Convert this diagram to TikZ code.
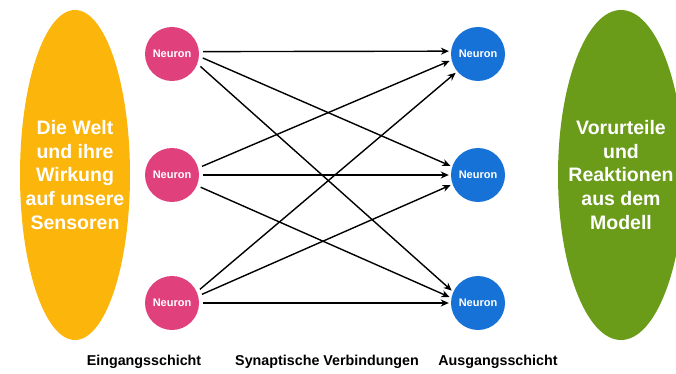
\documentclass[tikz,border=0pt]{standalone}
\usepackage{fontspec}
\setmainfont{Liberation Sans}
\usetikzlibrary{arrows.meta}
\usetikzlibrary{shapes.geometric}
\definecolor{weltgelb}{HTML}{FBB50B}
\definecolor{modellgruen}{HTML}{6A9B19}
\definecolor{eingangrosa}{HTML}{E0407C}
\definecolor{ausgangblau}{HTML}{1772D8}
\tikzset{
    welt/.style={ellipse, fill=#1, inner sep=0pt, minimum width=110pt, minimum height=330pt},
    welttext/.style={text=white, align=center, inner sep=0pt,
        font=\bfseries\fontsize{19.5}{23.75}\selectfont},
    neuronin/.style={circle, fill=eingangrosa, inner sep=0pt, minimum size=54pt,
        text=white, font=\bfseries\fontsize{11}{13}\selectfont},
    neuronout/.style={neuronin, fill=ausgangblau},
    synapse/.style={draw=black, line width=1.4pt, shorten <=4pt, shorten >=2pt,
        -{Stealth[length=8pt,width=7pt,inset=2.5pt]}},
    schicht/.style={font=\bfseries\fontsize{14.3}{17}\selectfont},
}
\begin{document}
\begin{tikzpicture}[x=1pt, y=-1pt]
	\useasboundingbox (0,0) rectangle (676,374);
	\node[welt=weltgelb] (welt) at (75,175) {};
	\node[welttext] (weltText) at (welt.center) {Die Welt\\und ihre\\Wirkung\\auf unsere\\Sensoren};
	\node[welt=modellgruen, minimum width=126pt] (modell) at (621,175) {};
	\node[welttext] (modellText) at (modell.center) {Vorurteile\\und\\Reaktionen\\aus dem\\Modell};
	\node[neuronin] (in1) at (172,54) {Neuron};
	\node[neuronin] (in2) at (172,175) {Neuron};
	\node[neuronin] (in3) at (172,303) {Neuron};
	\node[neuronout] (out1) at (478,54) {Neuron};
	\node[neuronout] (out2) at (478,175) {Neuron};
	\node[neuronout] (out3) at (478,303) {Neuron};
	\draw[synapse] (in1.5)--(out1.174);
	\draw[synapse] (in1.-5)--(out2.162);
	\draw[synapse] (in1.-21)--(out3.156);
	\draw[synapse] (in2.15)--(out1.-167);
	\draw[synapse] (in2.0)--(out2.180);
	\draw[synapse] (in2.-23)--(out3.169);
	\draw[synapse] (in3.24)--(out1.-140);
	\draw[synapse] (in3.15)--(out2.-160);
	\draw[synapse] (in3.0)--(out3.180);
	\node[schicht] (eingang) at (144,362) {Eingangsschicht};
	\node[schicht] (verbindung) at (327,362) {Synaptische Verbindungen};
	\node[schicht] (ausgang) at (498,362) {Ausgangsschicht};
\end{tikzpicture}
\end{document}
